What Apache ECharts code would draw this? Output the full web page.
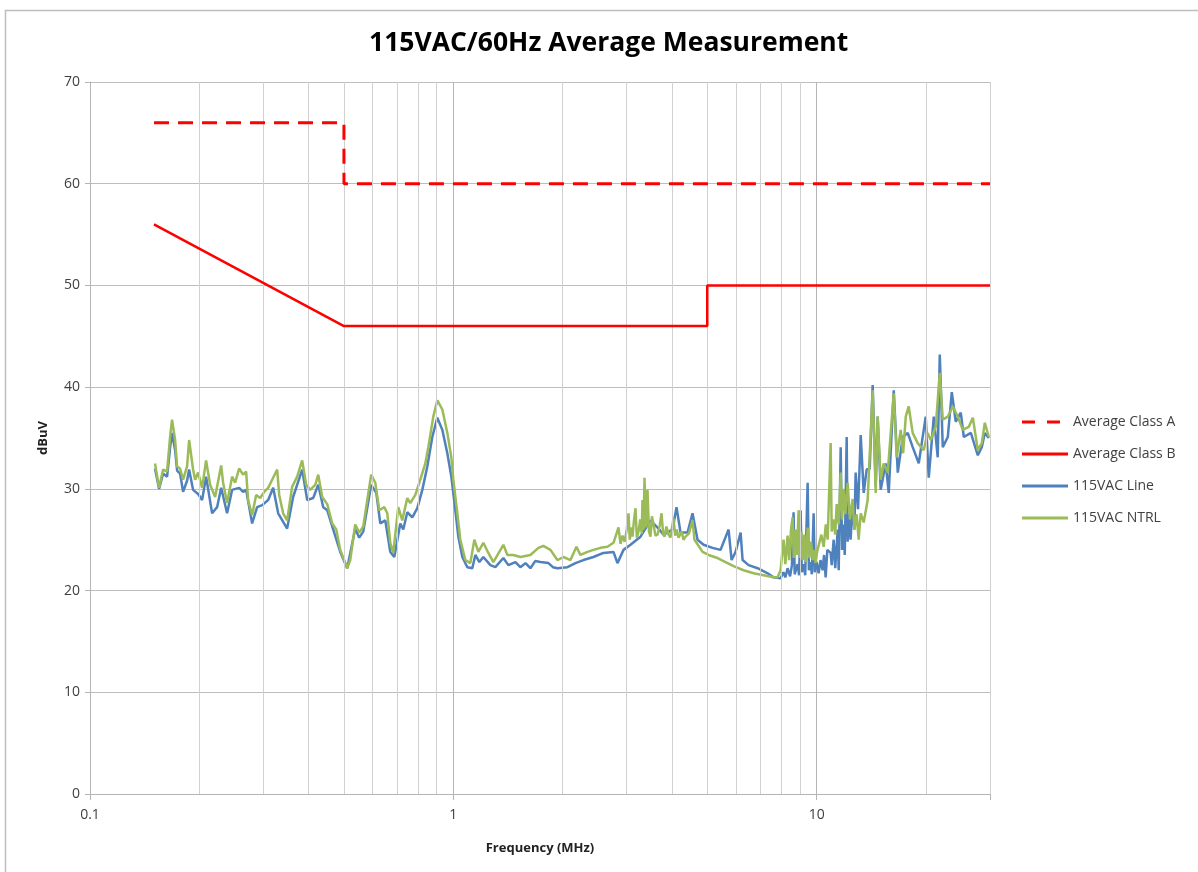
<!DOCTYPE html>
<html>
<head>
<meta charset="utf-8">
<script src="https://cdn.jsdelivr.net/npm/echarts@6/dist/echarts.min.js"></script>
<style>
html,body{margin:0;padding:0;background:#fff;}
#chart{width:1198px;height:872px;}
</style>
</head>
<body>
<div id="chart"></div>
<script>
// ---- data ----
const titleText = '115VAC/60Hz Average Measurement';
const xName = 'Frequency (MHz)';
const yName = 'dBuV';
const seriesNames = ['Average Class A', 'Average Class B', '115VAC Line', '115VAC NTRL'];
const xDecadeLabels = [0.1, 1, 10];
const minorGridFreqs = [0.2,0.3,0.4,0.5,0.6,0.7,0.8,0.9,2,3,4,5,6,7,8,9,20,30];

const classAFreq = [0.15, 0.5, 0.5, 30];
const classAVal  = [66, 66, 60, 60];
const classBFreq = [0.15, 0.5, 5, 5, 30];
const classBVal  = [56, 46, 46, 50, 50];

const lineFreq = [0.151,0.1549,0.1589,0.163,0.1661,0.1682,0.1715,0.1737,0.177,0.1804,0.185,0.1874,0.1922,0.1984,0.2035,0.2087,0.2168,0.2238,0.2296,0.2384,0.2461,0.2573,0.2639,0.269,0.2794,0.2884,0.2978,0.3093,0.3193,0.3296,0.3488,0.3623,0.3837,0.3961,0.4115,0.4248,0.4385,0.4497,0.4642,0.4884,0.5105,0.537,0.5508,0.565,0.5942,0.6137,0.6295,0.6497,0.6706,0.6879,0.7145,0.7282,0.747,0.7711,0.796,0.8216,0.848,0.8752,0.9036,0.9326,0.9627,0.9874,1.0128,1.0322,1.0588,1.0928,1.128,1.1498,1.1793,1.2096,1.2645,1.3054,1.3732,1.4175,1.4819,1.5293,1.58,1.6298,1.68,1.7366,1.8271,1.88,1.9341,2.0609,2.1684,2.2811,2.43,2.5898,2.7594,2.8302,2.9402,3.0735,3.2746,3.4889,3.6475,3.7888,4.0113,4.1147,4.2203,4.4116,4.554,4.7009,4.8839,5.1698,5.4387,5.7226,5.8328,5.9832,6.1757,6.2544,6.4972,6.8796,7.3282,7.6104,7.9557,8.1,8.2,8.3175,8.45,8.55,8.64,8.7,8.863,8.95,9.0345,9.1,9.2085,9.3,9.4453,9.52,9.6279,9.7,9.8107,9.88,10.0,10.128,10.25,10.388,10.48,10.588,10.7,10.929,11.0,11.138,11.25,11.427,11.5,11.645,11.75,11.869,11.95,12.096,12.17,12.25,12.4,12.564,12.7,12.805,13.0,13.221,13.475,13.729,14.0,14.262,14.536,14.722,15.006,15.49,15.79,16.3,16.72,17.26,17.81,18.38,19.1,19.96,20.35,21.01,21.54,21.82,22.24,22.96,23.55,24.15,24.93,25.41,26.57,27.77,28.48,29.03,29.78];
const lineVal = [32.0,30.0,31.5,31.2,34.0,35.5,33.8,31.8,31.5,29.7,30.8,31.9,29.9,29.5,28.9,31.2,27.6,28.2,30.1,27.6,29.9,30.1,29.7,29.9,26.6,28.2,28.4,28.9,30.1,27.6,26.1,29.2,31.9,28.9,29.1,30.4,28.2,27.9,26.3,23.8,22.2,26.1,25.2,25.8,30.4,29.6,26.6,26.9,23.8,23.3,26.6,26.0,27.7,27.2,28.1,29.9,32.2,35.1,37.0,35.8,33.5,31.2,27.9,25.3,23.3,22.3,22.2,23.5,22.8,23.3,22.5,22.3,23.2,22.5,22.8,22.3,22.7,22.2,22.9,22.8,22.7,22.3,22.2,22.3,22.7,23.0,23.3,23.7,23.8,22.7,24.0,24.5,25.3,26.9,26.2,25.5,26.0,28.2,25.7,25.7,27.6,25.0,24.5,24.2,24.0,26.0,23.0,23.8,25.7,23.0,22.5,22.2,21.7,21.3,21.2,21.8,21.3,22.2,21.4,22.5,27.7,21.6,22.6,21.5,27.9,21.8,22.6,21.5,30.6,22.0,22.8,21.6,27.6,21.8,22.8,21.7,23.0,22.0,23.5,21.3,24.0,23.7,22.5,25.0,22.2,26.0,22.0,34.1,24.0,26.5,23.5,35.1,24.8,27.5,25.0,28.5,26.0,31.6,28.0,35.3,29.6,31.9,32.0,40.2,30.2,37.1,29.9,32.5,29.6,39.7,31.6,35.1,35.5,34.1,32.5,37.1,31.1,37.1,33.1,43.2,34.1,35.1,39.5,36.6,37.5,35.1,35.5,33.3,34.1,35.5,35.0];

const ntrlFreq = [0.151,0.1549,0.1589,0.163,0.1661,0.1682,0.1715,0.1737,0.177,0.1804,0.185,0.1874,0.1922,0.1947,0.1984,0.2035,0.2087,0.2141,0.221,0.2296,0.2325,0.2384,0.2461,0.2508,0.2573,0.2639,0.269,0.2724,0.2794,0.2866,0.294,0.3016,0.3093,0.3172,0.3275,0.3317,0.3401,0.3488,0.36,0.3717,0.3837,0.3936,0.4037,0.4168,0.4248,0.4357,0.4497,0.4642,0.4762,0.4884,0.5105,0.5203,0.537,0.5508,0.565,0.5942,0.6098,0.6255,0.6456,0.658,0.6706,0.6835,0.7055,0.7236,0.747,0.7613,0.7859,0.8112,0.8373,0.8534,0.8808,0.9036,0.9326,0.9627,0.9874,1.0,1.0257,1.0454,1.0791,1.1138,1.1426,1.1719,1.2096,1.2486,1.2888,1.3732,1.4086,1.4632,1.5293,1.6298,1.7148,1.7699,1.8504,1.9341,2.0093,2.1006,2.1822,2.2381,2.3399,2.43,2.541,2.6563,2.7594,2.8484,2.885,2.9217,2.96,2.9966,3.0348,3.06,3.09,3.1127,3.14,3.1724,3.2,3.2334,3.27,3.3,3.3164,3.34,3.3587,3.39,3.4231,3.455,3.4889,3.52,3.556,3.6,3.6475,3.7,3.7411,3.78,3.813,3.86,3.911,3.96,4.037,4.08,4.12,4.1672,4.25,4.3,4.356,4.45,4.554,4.61,4.671,4.8529,5.0404,5.3365,5.6145,5.9073,6.2941,6.7068,7.145,7.6104,7.8069,7.9557,8.03,8.1093,8.2,8.3175,8.4,8.5,8.5857,8.65,8.7503,8.83,8.9193,9.0,9.08,9.1497,9.25,9.34,9.4453,9.55,9.65,9.7499,9.85,9.9357,10.03,10.128,10.3,10.454,10.6,10.722,10.929,11.0,11.138,11.25,11.353,11.5,11.645,11.75,11.869,12.0,12.172,12.35,12.564,12.7,12.887,13.05,13.221,13.475,13.817,14.262,14.536,14.722,15.006,15.3,15.69,16.3,16.61,17.04,17.3,17.59,17.92,18.38,18.97,19.71,20.2,20.61,21.27,21.82,22.24,22.96,23.7,24.46,25.25,26.23,26.91,27.77,28.48,29.03,29.78];
const ntrlVal = [32.5,30.1,31.9,31.7,35.1,36.8,34.8,32.2,32.0,30.9,32.2,34.8,31.9,30.9,31.6,30.1,32.8,30.4,29.2,32.3,30.6,28.6,31.2,30.6,32.0,31.4,31.7,28.9,27.4,29.4,29.1,29.7,30.1,30.9,31.9,29.4,27.6,26.9,30.2,31.2,32.8,30.4,29.9,30.4,31.4,29.2,28.5,26.6,26.0,24.0,22.2,23.0,26.5,25.7,26.3,31.4,30.6,27.9,28.2,27.6,24.7,23.7,28.2,26.9,29.1,28.6,29.4,30.9,32.5,34.1,37.1,38.7,37.8,35.5,33.1,30.9,27.6,25.0,23.0,22.7,25.0,23.8,24.7,23.7,22.8,24.5,23.5,23.5,23.3,23.5,24.2,24.4,24.0,23.0,23.3,23.0,24.3,23.5,23.8,24.0,24.2,24.3,24.7,26.2,24.6,25.4,24.8,25.8,27.6,25.0,26.2,25.3,26.8,28.1,25.2,25.8,27.0,25.6,28.9,26.0,31.1,26.2,29.9,25.8,25.3,27.3,26.5,25.4,25.5,26.4,27.6,25.6,25.3,26.3,25.5,25.2,27.1,25.4,26.0,25.2,25.8,25.0,25.3,25.6,26.9,25.0,24.7,23.8,23.5,23.2,22.8,22.4,22.0,21.7,21.5,21.3,21.3,22.0,23.5,25.0,22.6,25.4,23.0,26.0,27.2,23.2,26.0,23.5,27.9,23.2,25.8,23.0,25.5,22.8,26.2,23.2,24.8,23.0,24.0,22.7,23.8,23.7,25.5,24.3,26.5,25.0,34.5,25.8,27.0,25.5,28.5,26.5,31.6,27.0,30.0,27.5,30.6,27.0,29.0,26.0,27.5,25.0,27.6,26.7,28.9,39.7,29.6,37.1,30.9,32.5,31.6,39.4,33.1,35.8,33.5,37.1,38.1,35.5,34.5,33.8,35.5,34.8,36.1,41.4,36.8,37.1,38.1,37.1,35.8,36.1,37.0,33.8,34.5,36.5,35.1];

function zip(a, b) { return a.map((v, i) => [v, b[i]]); }

const FONT = '"Open Sans", "Liberation Sans", sans-serif';
const ICON_SOLID = 'path://M0,0L0,14M46,0L46,14M0,5.5L46,5.5L46,8.5L0,8.5Z';
const ICON_DASH = 'path://M0,0L0,14M46,0L46,14M0,5.5L13,5.5L13,8.5L0,8.5ZM25,5.5L38,5.5L38,8.5L25,8.5Z';
const colors = ['#ff0000', '#ff0000', '#4f81bd', '#9bbb59'];

const chart = echarts.init(document.getElementById('chart'), null, {renderer: 'canvas'});

chart.setOption({
  animation: false,
  backgroundColor: '#ffffff',
  title: {
    text: titleText, left: 364, top: 25,
    textStyle: {fontFamily: FONT, fontSize: 26.5, fontWeight: 'bold', color: '#000'}
  },
  graphic: [{
    type: 'rect', left: 3, top: 8, silent: true,
    shape: {width: 1300, height: 1000},
    style: {fill: 'none', stroke: '#bdbdbd', lineWidth: 1.5}
  }],
  legend: {
    orient: 'vertical', left: 1017, top: 410,
    itemWidth: 46, itemHeight: 14, itemGap: 18,
    itemStyle: {borderWidth: 0},
    data: seriesNames.map((n, i) => ({
      name: n, icon: i === 0 ? ICON_DASH : ICON_SOLID,
      itemStyle: {color: colors[i], borderWidth: 0}
    })),
    textStyle: {fontFamily: FONT, fontSize: 14, color: '#404040'}
  },
  grid: {left: 90, right: 208, top: 82, bottom: 78, containLabel: false},
  xAxis: {
    type: 'log', logBase: 10, min: 0.1, max: 30,
    name: xName, nameLocation: 'middle', nameGap: 48,
    nameTextStyle: {fontFamily: FONT, fontSize: 13, fontWeight: 'bold', color: '#222'},
    axisLine: {show: true, lineStyle: {color: '#b5b5b5', width: 1}},
    axisTick: {show: true, length: 6, lineStyle: {color: '#b5b5b5'}},
    axisLabel: {
      margin: 14, fontFamily: FONT, fontSize: 14, color: '#404040',
      formatter: function (v) {
        for (const d of xDecadeLabels) { if (Math.abs(v - d) < d * 1e-6) return String(d); }
        return '';
      }
    },
    splitLine: {show: true, lineStyle: {color: '#b5b5b5', width: 1}},
    minorTick: {show: false}, minorSplitLine: {show: false}
  },
  yAxis: {
    type: 'value', min: 0, max: 70, interval: 10,
    name: yName, nameLocation: 'middle', nameGap: 40, nameRotate: 90,
    nameTextStyle: {fontFamily: FONT, fontSize: 13, fontWeight: 'bold', color: '#222'},
    axisLine: {show: true, lineStyle: {color: '#b5b5b5', width: 1}},
    axisTick: {show: true, length: 5, lineStyle: {color: '#b5b5b5'}},
    axisLabel: {margin: 10, fontFamily: FONT, fontSize: 14, color: '#404040'},
    splitLine: {show: true, lineStyle: {color: '#bdbdbd', width: 1}}
  },
  series: [
    {
      name: 'grid-minor', type: 'line', data: [], z: 1, silent: true,
      markLine: {
        silent: true, symbol: ['none', 'none'], label: {show: false},
        lineStyle: {color: '#d0d0d0', type: 'solid', width: 1},
        data: minorGridFreqs.map(f => ({xAxis: f}))
      }
    },
    {
      name: seriesNames[0], type: 'line', data: zip(classAFreq, classAVal),
      showSymbol: false, symbol: 'none', z: 5,
      lineStyle: {color: colors[0], width: 3, type: [15, 9]},
      itemStyle: {color: colors[0]}
    },
    {
      name: seriesNames[1], type: 'line', data: zip(classBFreq, classBVal),
      showSymbol: false, symbol: 'none', z: 5,
      lineStyle: {color: colors[1], width: 2.5},
      itemStyle: {color: colors[1]}
    },
    {
      name: seriesNames[2], type: 'line', data: zip(lineFreq, lineVal),
      showSymbol: false, symbol: 'none', z: 3,
      lineStyle: {color: colors[2], width: 2.5},
      itemStyle: {color: colors[2]}
    },
    {
      name: seriesNames[3], type: 'line', data: zip(ntrlFreq, ntrlVal),
      showSymbol: false, symbol: 'none', z: 4,
      lineStyle: {color: colors[3], width: 2.5},
      itemStyle: {color: colors[3]}
    }
  ]
});
</script>
</body>
</html>
